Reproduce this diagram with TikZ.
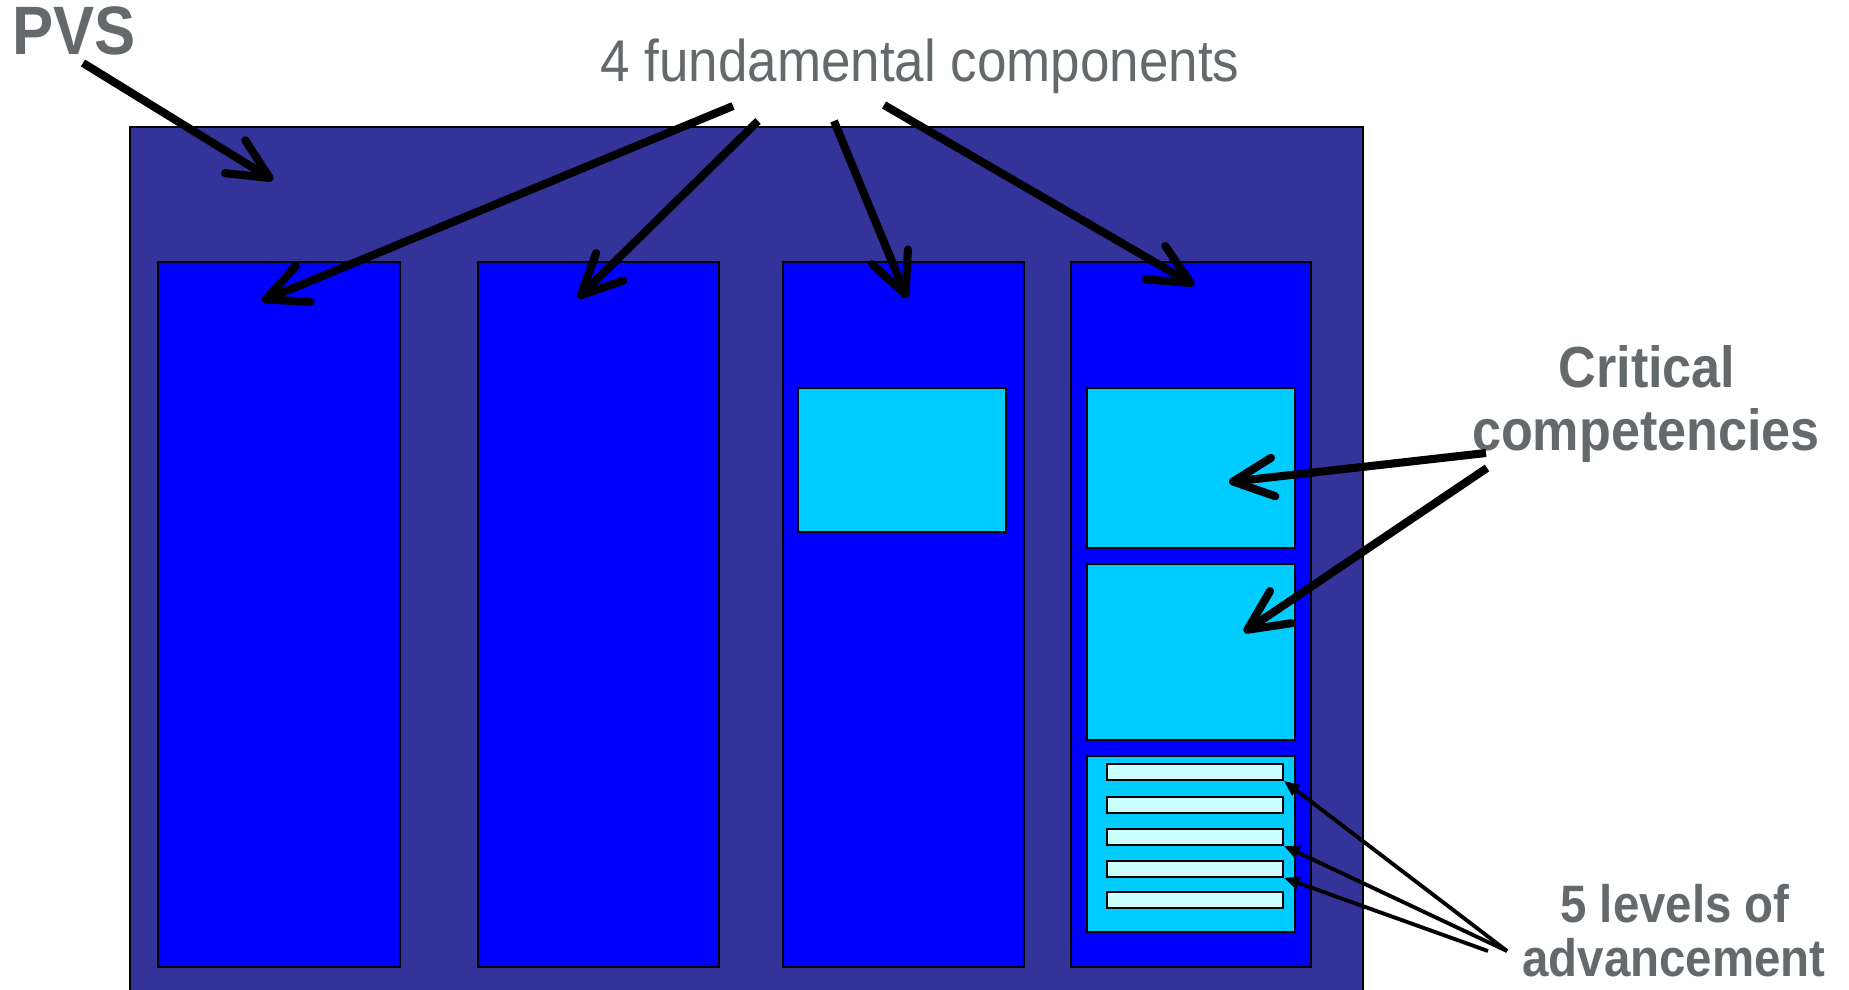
\documentclass[tikz,border=0pt]{standalone}
\usepackage{fontspec}
\setmainfont{Liberation Sans}
\newfontfamily\labelfont[FakeStretch=0.9]{Liberation Sans}
\usetikzlibrary{arrows.meta}
\definecolor{pvsblue}{RGB}{51,51,153}
\definecolor{compblue}{RGB}{0,0,255}
\definecolor{critcyan}{RGB}{0,204,255}
\definecolor{levelcyan}{RGB}{204,255,255}
\definecolor{labelgray}{RGB}{100,105,108}

\begin{document}
\begin{tikzpicture}[x=0.02cm,y=-0.02cm,
  outer/.style={draw=black,fill=pvsblue,line width=0.6pt},
  column/.style={draw=black,fill=compblue,line width=0.8pt},
  critbox/.style={draw=black,fill=critcyan,line width=1pt},
  levelbox/.style={draw=black,fill=levelcyan,line width=1pt,inner sep=0pt,
    minimum width=3.52cm,minimum height=0.32cm,anchor=north west},
  lbl/.style={text=labelgray,inner sep=0pt,anchor=base},
  bigarrow/.style={line width=4.6pt,-{Straight Barb[round,length=23pt,width=22pt]}},
  thinarrow/.style={line width=2.2pt,-{Triangle[length=9pt,width=7pt]}}]
  \useasboundingbox (0,0) rectangle (1849,990);
  \clip (0,0) rectangle (1849,990);

  % boxes
  \draw[outer] (130,127) rectangle (1363,1000);
  \foreach \l/\r in {158/400,478/719,783/1024,1071/1311}
    \draw[column] (\l,262) rectangle (\r,967);
  \draw[critbox] (798,388) rectangle (1006,532);
  \draw[critbox] (1087,388) rectangle (1295,548);
  \draw[critbox] (1087,564) rectangle (1295,740);
  \draw[critbox] (1087,756) rectangle (1295,932);
  \foreach \i/\t in {1/763,2/796,3/828,4/860,5/891}
    \node[levelbox] (lvl\i) at (1106,\t) {};

  % labels
  \node[lbl,font={\labelfont\bfseries\fontsize{39pt}{45pt}\selectfont},anchor=base west] (pvs) at (12,55) {PVS};
  \node[lbl,font={\labelfont\fontsize{33.5pt}{40pt}\selectfont}] (fund) at (920,82) {4 fundamental components};
  \node[lbl,font={\labelfont\bfseries\fontsize{33pt}{40pt}\selectfont}] (crit1) at (1647,387) {Critical};
  \node[lbl,font={\labelfont\bfseries\fontsize{33pt}{40pt}\selectfont}] (crit2) at (1646,450) {competencies};
  \node[lbl,font={\labelfont\bfseries\fontsize{30pt}{36pt}\selectfont}] (adv1) at (1675,922) {5 levels of};
  \node[lbl,font={\labelfont\bfseries\fontsize{30pt}{36pt}\selectfont}] (adv2) at (1674,976) {advancement};

  % arrow ends
  \coordinate (pvs-from) at (83,63);
  \coordinate (pvs-to) at (273,180);
  \coordinate (fund-a) at (733,106);
  \coordinate (fund-b) at (758,121);
  \coordinate (fund-c) at (834,121);
  \coordinate (fund-d) at (884,105);
  \coordinate (comp1) at (262,301);
  \coordinate (comp2) at (578,298);
  \coordinate (comp3) at (907,298);
  \coordinate (comp4) at (1194,285);
  \coordinate (crit-a) at (1486,453);
  \coordinate (crit-b) at (1487,468);
  \coordinate (crit-top) at (1229,482);
  \coordinate (crit-mid) at (1244,632);
  \coordinate (adv-a) at (1507,951);
  \coordinate (adv-b) at (1488,951);

  \draw[bigarrow] (pvs-from)--(pvs-to);
  \draw[bigarrow] (fund-a)--(comp1);
  \draw[bigarrow] (fund-b)--(comp2);
  \draw[bigarrow] (fund-c)--(comp3);
  \draw[bigarrow] (fund-d)--(comp4);
  \draw[bigarrow] (crit-a)--(crit-top);
  \draw[bigarrow] (crit-b)--(crit-mid);
  \draw[thinarrow] (adv-a)--(lvl1.south east);
  \draw[thinarrow] (adv-a)--(lvl3.south east);
  \draw[thinarrow] (adv-b)--(lvl4.south east);
\end{tikzpicture}
\end{document}
